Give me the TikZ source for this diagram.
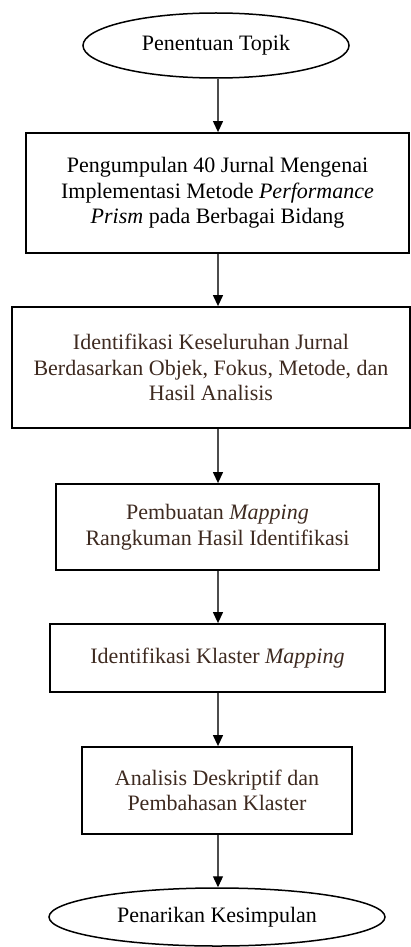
\documentclass[tikz,border=0pt]{standalone}
\usepackage{fontspec}
\setmainfont{Liberation Serif}
\usetikzlibrary{shapes.geometric,arrows.meta}
\definecolor{txtbrown}{RGB}{62,42,32}
\begin{document}
\begin{tikzpicture}[x=1pt,y=-1pt,
    every node/.style={font=\fontsize{22pt}{25.5pt}\selectfont},
    box/.style={draw,line width=1.8pt,align=center,inner sep=0pt,text=txtbrown},
    oval/.style={draw,ellipse,line width=1.5pt,inner sep=0pt},
    flow/.style={draw=black!70,line width=1.2pt,-{Triangle[width=10pt,length=11pt,color=black]}}]
    \useasboundingbox (0,0) rectangle (411,947);
    \coordinate (ax) at (218,0);
    \node[oval,minimum width=266,minimum height=65] (topik) at (216,45.5) {Penentuan Topik};
    \node[box,text=black,minimum width=383,minimum height=120] (kumpul) at (217.5,193)
      {Pengumpulan 40 Jurnal Mengenai\\Implementasi Metode \textit{Performance}\\\textit{Prism} pada Berbagai Bidang};
    \node[box,minimum width=398,minimum height=121] (identifikasi) at (211,367.5)
      {Identifikasi Keseluruhan Jurnal\\Berdasarkan Objek, Fokus, Metode, dan\\Hasil Analisis};
    \node[box,minimum width=323,minimum height=86] (mapping) at (217.5,527)
      {Pembuatan \textit{Mapping}\\Rangkuman Hasil Identifikasi};
    \node[box,minimum width=335,minimum height=68] (klaster) at (217.5,658)
      {Identifikasi Klaster \textit{Mapping}};
    \node[box,minimum width=270,minimum height=87] (analisis) at (217,790.5)
      {Analisis Deskriptif dan\\Pembahasan Klaster};
    \node[oval,minimum width=336,minimum height=58] (simpulan) at (217,917) {Penarikan Kesimpulan};
    % panah antar tahap
    \foreach \a/\b in {topik/kumpul,kumpul/identifikasi,identifikasi/mapping,mapping/klaster,klaster/analisis,analisis/simpulan}
      \draw[flow] (\a.south -| ax) -- (\b.north -| ax);
\end{tikzpicture}
\end{document}
